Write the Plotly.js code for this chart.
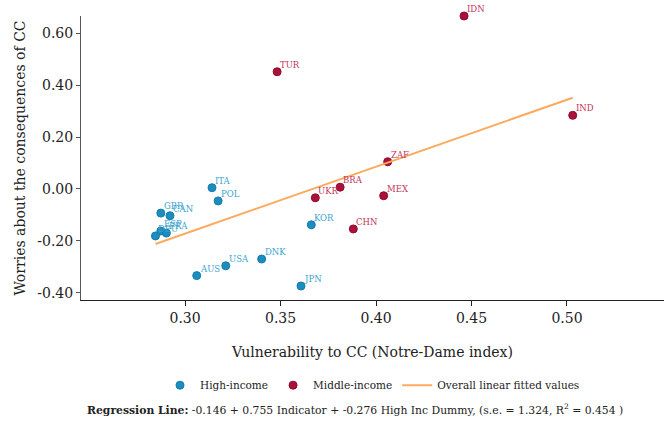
<!DOCTYPE html>
<html>
<head>
<meta charset="utf-8">
<script src="https://cdn.plot.ly/plotly-3.0.1.min.js"></script>
<style>html,body{margin:0;padding:0;background:#fff;}#chart{width:664px;height:421px;}</style>
</head>
<body>
<div id="chart"></div>
<script>
// High-income countries
const hiCountries = ["GBR","CAN","DEU","ESP","FRA","ITA","POL","AUS","USA","DNK","KOR","JPN"];
const hiX = [0.2873, 0.2921, 0.2845, 0.2873, 0.2902, 0.3141, 0.3173, 0.3061, 0.3213, 0.3401, 0.3661, 0.3607];
const hiY = [-0.093, -0.103, -0.181, -0.162, -0.170, 0.005, -0.046, -0.334, -0.296, -0.270, -0.138, -0.374];
// Middle-income countries
const miCountries = ["TUR","UKR","BRA","CHN","MEX","ZAF","IDN","IND"];
const miX = [0.3482, 0.3682, 0.3812, 0.3881, 0.4040, 0.4061, 0.4461, 0.5030];
const miY = [0.452, -0.034, 0.007, -0.154, -0.026, 0.105, 0.667, 0.284];
// Overall linear fitted values (endpoints)
const fitX = [0.2845, 0.5030];
const fitY = [-0.212, 0.352];

const xTicks = [0.30, 0.35, 0.40, 0.45, 0.50];
const yTicks = [-0.40, -0.20, 0.00, 0.20, 0.40, 0.60];

const FONT = "DejaVu Serif";
const BLUE = "#1a8dc1", RED = "#ad1038", ORANGE = "#fdaa5e";
const BLUE_T = "#3ba3cf", RED_T = "#c2345a";

const traces = [
  {x: hiX, y: hiY, type: "scatter", mode: "markers", name: "High-income",
   marker: {color: BLUE, size: 8, line: {color: "#167aa8", width: 1}}, cliponaxis: false},
  {x: miX, y: miY, type: "scatter", mode: "markers", name: "Middle-income",
   marker: {color: RED, size: 8, line: {color: "#8e0c2e", width: 1}}, cliponaxis: false},
  {x: fitX, y: fitY, type: "scatter", mode: "lines", name: "Overall linear fitted values",
   line: {color: ORANGE, width: 2}}
];

function labels(names, xs, ys, color) {
  return names.map((n, i) => ({
    x: xs[i], y: ys[i], xref: "x", yref: "y", text: n, showarrow: false,
    xanchor: "left", yanchor: "bottom", xshift: 1, yshift: 0,
    font: {family: FONT, size: 8.5, color: color}
  }));
}

const layout = {
  width: 664, height: 421,
  margin: {l: 81, r: 0, t: 16, b: 121},
  paper_bgcolor: "#fff", plot_bgcolor: "#fff",
  font: {family: FONT, size: 14, color: "#111"},
  showlegend: true,
  legend: {orientation: "h", x: 0.5, xanchor: "center", y: -0.30, yanchor: "middle",
           font: {family: FONT, size: 10.5, color: "#222"}, traceorder: "normal", itemwidth: 30},
  xaxis: {range: [0.2455, 0.5508], tickvals: xTicks, ticktext: xTicks.map(v => v.toFixed(2)),
          showgrid: false, zeroline: false, showline: true, linecolor: "#222", linewidth: 1,
          ticks: "outside", ticklen: 5, tickcolor: "#222",
          tickfont: {family: FONT, size: 14, color: "#222"},
          title: {text: "Vulnerability to CC (Notre-Dame index)", font: {family: FONT, size: 14, color: "#222"}, standoff: 22}},
  yaxis: {range: [-0.428, 0.667], tickvals: yTicks, ticktext: yTicks.map(v => v.toFixed(2)),
          showgrid: false, zeroline: false, showline: true, linecolor: "#555", linewidth: 1,
          ticks: "outside", ticklen: 4, tickcolor: "#555",
          tickfont: {family: FONT, size: 14, color: "#222"},
          title: {text: "Worries about the consequences of CC", font: {family: FONT, size: 14, color: "#222"}, standoff: 8}},
  annotations: labels(hiCountries, hiX, hiY, BLUE_T)
    .concat(labels(miCountries, miX, miY, RED_T))
    .concat([{
      xref: "paper", yref: "paper", x: 0.47, y: -0.384, xanchor: "center", yanchor: "middle", showarrow: false,
      text: "<b>Regression Line:</b> -0.146 + 0.755 Indicator + -0.276 High Inc Dummy, (s.e. = 1.324, R<sup>2</sup> = 0.454 )",
      font: {family: FONT, size: 10.8, color: "#222"}
    }])
};

Plotly.newPlot("chart", traces, layout, {displayModeBar: false, staticPlot: true});
</script>
</body>
</html>
